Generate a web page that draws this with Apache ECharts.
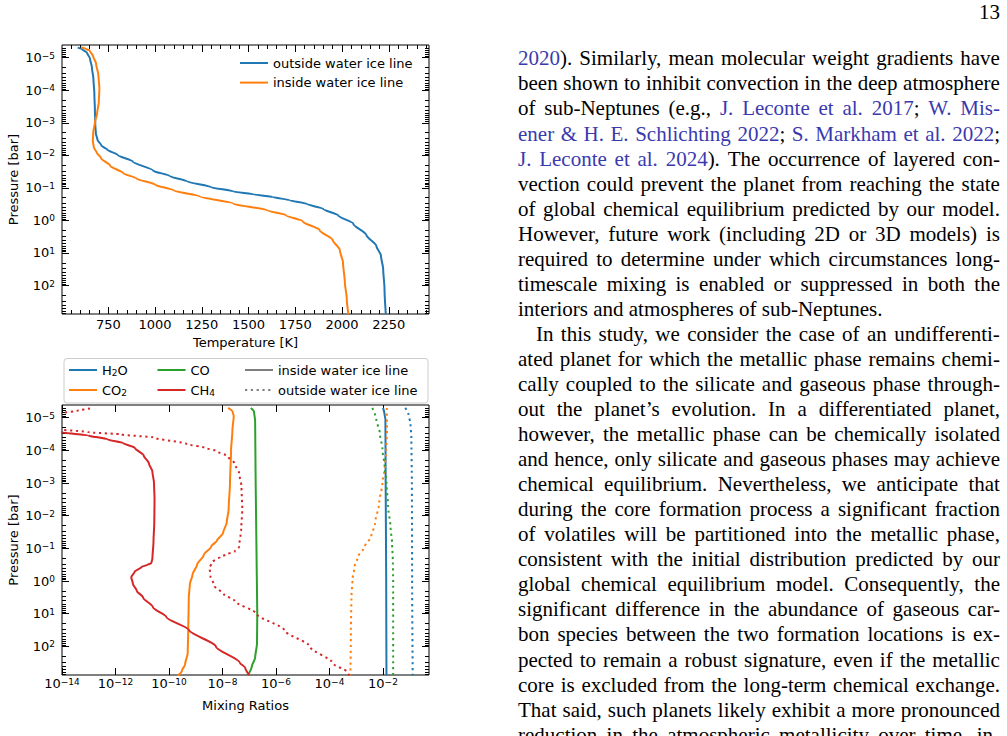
<!DOCTYPE html>
<html>
<head>
<meta charset="utf-8">
<title>Temperature and mixing ratio profiles</title>
<script src="https://cdn.jsdelivr.net/npm/echarts@6/dist/echarts.min.js"></script>
<style>
  html, body { margin: 0; padding: 0; background: #fff; }
  #chart { position: absolute; left: 0; top: 0; width: 1007px; height: 736px; }
  #page { position: absolute; left: 518px; top: 0; width: 482px; font-family: 'Liberation Serif', serif; font-size: 21px; line-height: 25.06px; color: #000; }
  #pageno { text-align: right; height: 46px; line-height: 24.95px; margin-top: 0.4px; }
  .ln { display: flex; justify-content: space-between; height: 25.06px; white-space: nowrap; }
  .ln.indent { padding-left: 18px; }
  .ln.last { display: block; }
  .cite { color: #3a3aae; }
</style>
</head>
<body>
<div id="chart"></div>
<div id="page"><div id="pageno">13</div><div id="body"></div></div>
<script>
// Temperature profiles, [temperature K, log10 pressure (bar)]
const tempOutside = [[586,-5.31],[612,-5.25],[636,-5.15],[652,-4.97],[662,-4.7],[670,-4.35],[675,-3.9],[678,-3.4],[680,-2.95],[683,-2.68],[692,-2.47],[712,-2.31],[745,-2.17],[800,-2.01],[880,-1.81],[990,-1.53],[1080,-1.36],[1170,-1.2],[1300,-1.02],[1420,-0.89],[1530,-0.8],[1630,-0.72],[1720,-0.62],[1810,-0.51],[1900,-0.35],[1980,-0.15],[2060,0.1],[2130,0.45],[2183,0.78],[2208,1.08],[2220,1.5],[2227,2.1],[2234,2.88]];
const tempInside = [[604,-5.31],[630,-5.27],[650,-5.22],[668,-5.05],[684,-4.82],[697,-4.45],[702,-4.05],[699,-3.65],[690,-3.3],[678,-3.0],[669,-2.7],[667,-2.45],[672,-2.25],[688,-2.08],[710,-1.92],[760,-1.68],[830,-1.45],[900,-1.29],[1000,-1.1],[1100,-0.92],[1238,-0.74],[1420,-0.51],[1600,-0.31],[1700,-0.16],[1790,0.03],[1880,0.3],[1950,0.6],[1988,0.91],[2005,1.3],[2015,1.9],[2025,2.4],[2034,2.88]];

// Mixing ratios, [log10 mixing ratio, log10 pressure (bar)]
const h2oInside = [[-2.0,-5.3],[-1.95,-5.15],[-1.91,-4.95],[-1.9,-3.0],[-1.88,0],[-1.87,2.88]];
const h2oOutside = [[-1.17,-5.3],[-1.05,-5.12],[-0.97,-4.8],[-0.94,-4.4],[-0.92,-3.0],[-0.91,0],[-0.89,2.88]];
const co2Inside = [[-7.79,-5.3],[-7.62,-5.18],[-7.58,-5.05],[-7.63,-4.6],[-7.68,-4.0],[-7.72,-3.0],[-7.77,-2.2],[-7.84,-1.8],[-7.98,-1.47],[-8.2,-1.25],[-8.42,-1.06],[-8.7,-0.8],[-8.95,-0.5],[-9.12,-0.2],[-9.22,0.1],[-9.26,0.5],[-9.28,1.5],[-9.3,2.2],[-9.4,2.55],[-9.52,2.75],[-9.68,2.9]];
const co2Outside = [[-1.86,-5.3],[-1.85,-4.6],[-1.88,-4.0],[-1.93,-3.5],[-2.02,-3.0],[-2.14,-2.4],[-2.3,-1.75],[-2.44,-1.37],[-2.68,-1.06],[-2.93,-0.75],[-3.06,-0.45],[-3.14,-0.05],[-3.18,0.5],[-3.2,1.5],[-3.22,2.88]];
const coInside = [[-6.94,-5.3],[-6.82,-5.18],[-6.78,-4.9],[-6.76,-3.0],[-6.73,-1.0],[-6.7,1.0],[-6.71,1.9],[-6.78,2.35],[-6.9,2.6],[-7.05,2.88]];
const coOutside = [[-2.4,-5.3],[-2.25,-4.95],[-2.12,-4.54],[-2.02,-4.03],[-1.94,-3.52],[-1.87,-3.0],[-1.81,-2.29],[-1.72,-1.67],[-1.66,-1.16],[-1.63,-0.6],[-1.62,0],[-1.62,2.88]];
const ch4Inside = [[-14.3,-4.62],[-14,-4.55],[-13.03,-4.46],[-12.3,-4.34],[-11.7,-4.22],[-11.28,-4.08],[-10.95,-3.85],[-10.75,-3.6],[-10.62,-3.35],[-10.56,-3.0],[-10.54,-2.5],[-10.55,-1.8],[-10.58,-1.2],[-10.62,-0.7],[-10.66,-0.55],[-10.8,-0.5],[-11.03,-0.43],[-11.28,-0.29],[-11.41,-0.12],[-11.35,0.08],[-11.2,0.3],[-10.97,0.5],[-10.6,0.8],[-10.1,1.1],[-9.25,1.5],[-8.25,2.0],[-7.35,2.5],[-7.15,2.65],[-7.0,2.88]];
const ch4Outside = [[-12.95,-5.28],[-13.4,-5.22],[-14,-5.14],[-14.5,-5.05],[-14.5,-4.7],[-14,-4.64],[-13.03,-4.56],[-11.78,-4.49],[-10.54,-4.39],[-9.35,-4.2],[-8.6,-4.07],[-8.23,-3.98],[-7.8,-3.82],[-7.55,-3.6],[-7.38,-3.31],[-7.29,-2.9],[-7.26,-2.2],[-7.3,-1.6],[-7.38,-1.05],[-7.55,-0.9],[-7.8,-0.83],[-8.1,-0.74],[-8.38,-0.58],[-8.48,-0.4],[-8.45,-0.15],[-8.3,0.15],[-7.95,0.4],[-7.55,0.6],[-6.73,1.0],[-5.7,1.5],[-4.74,2.0],[-3.87,2.52],[-3.37,2.77],[-3.25,2.88]];

// Ticks
const pressureTicks = [-5, -4, -3, -2, -1, 0, 1, 2];
const tempTicks = [750, 1000, 1250, 1500, 1750, 2000, 2250];
const ratioTicks = [-14, -12, -10, -8, -6, -4, -2];

const legendText = {
  tOut: 'outside water ice line', tIn: 'inside water ice line',
  H2O: 'H{sub|2}O', CO2: 'CO{sub|2}', CO: 'CO', CH4: 'CH{sub|4}',
  inside: 'inside water ice line', outside: 'outside water ice line'
};

const bodyLines = [
  '[2020]). Similarly, mean molecular weight gradients have',
  'been shown to inhibit convection in the deep atmosphere',
  'of sub-Neptunes (e.g., [J. Leconte et al. 2017]; [W. Mis-]',
  '[ener & H. E. Schlichting 2022]; [S. Markham et al. 2022];',
  '[J. Leconte et al. 2024]). The occurrence of layered con-',
  'vection could prevent the planet from reaching the state',
  'of global chemical equilibrium predicted by our model.',
  'However, future work (including 2D or 3D models) is',
  'required to determine under which circumstances long-',
  'timescale mixing is enabled or suppressed in both the',
  'interiors and atmospheres of sub-Neptunes.',
  'In this study, we consider the case of an undifferenti-',
  'ated planet for which the metallic phase remains chemi-',
  'cally coupled to the silicate and gaseous phase through-',
  'out the planet’s evolution. In a differentiated planet,',
  'however, the metallic phase can be chemically isolated',
  'and hence, only silicate and gaseous phases may achieve',
  'chemical equilibrium. Nevertheless, we anticipate that',
  'during the core formation process a significant fraction',
  'of volatiles will be partitioned into the metallic phase,',
  'consistent with the initial distribution predicted by our',
  'global chemical equilibrium model. Consequently, the',
  'significant difference in the abundance of gaseous car-',
  'bon species between the two formation locations is ex-',
  'pected to remain a robust signature, even if the metallic',
  'core is excluded from the long-term chemical exchange.',
  'That said, such planets likely exhibit a more pronounced',
  'reduction in the atmospheric metallicity over time, in-'
];
const lastLines = [10];
const indentLines = [11];

// ---- page text ----
function wordsHtml(line) {
  let link = false;
  return line.split(' ').map(w => {
    let out = '', buf = '';
    const flush = () => {
      if (!buf) return;
      const t = buf.replace(/&/g, '&amp;');
      out += link ? '<span class="cite">' + t + '</span>' : t;
      buf = '';
    };
    for (const ch of w) {
      if (ch === '[') { flush(); link = true; }
      else if (ch === ']') { flush(); link = false; }
      else buf += ch;
    }
    flush();
    return out;
  });
}
const bodyEl = document.getElementById('body');
bodyLines.forEach((s, i) => {
  const div = document.createElement('div');
  const words = wordsHtml(s);
  if (lastLines.includes(i)) {
    div.className = 'ln last';
    div.innerHTML = words.join(' ');
  } else {
    div.className = 'ln' + (indentLines.includes(i) ? ' indent' : '');
    div.innerHTML = words.map(w => '<span>' + w + '</span>').join('');
  }
  bodyEl.appendChild(div);
});

// ---- chart ----
const font = 'DejaVu Sans';
const pMin = -5.39, pMax = 2.875;
const tMin = 502, tMax = 2465;
const rMin = -14, rMax = -0.28;

const pressureMinor = [];
for (let n = -6; n <= 2; n++) {
  for (let k = 2; k <= 9; k++) {
    const v = n + Math.log10(k);
    if (v > pMin && v < pMax) pressureMinor.push(v);
  }
}
const tempMinor = [];
for (let t = 550; t < tMax; t += 50) if (t % 250) tempMinor.push(t);

const supRich = {
  b: { fontFamily: font, fontSize: 13, lineHeight: 13, padding: [3, 0, 0, 0], verticalAlign: 'bottom', color: '#000' },
  s: { fontFamily: font, fontSize: 9, lineHeight: 9, verticalAlign: 'top', color: '#000' }
};
const powLabel = v => '{b|10}{s|' + (v < 0 ? '\u2212' + (-v) : v) + '}';

function axis(gridIndex, position, min, max, ticks, len, extra) {
  return Object.assign({
    type: 'value', gridIndex, position, min, max,
    axisLine: { show: false, onZero: false },
    splitLine: { show: false },
    axisTick: { show: true, inside: true, length: len, customValues: ticks, lineStyle: { color: '#000', width: 1 } },
    axisLabel: { show: false }
  }, extra || {});
}
const nameStyle = { fontFamily: font, fontSize: 13, color: '#000' };
function pressureAxes(g) {
  return [
    axis(g, 'left', pMin, pMax, pressureTicks, 7, {
      inverse: true,
      name: 'Pressure [bar]', nameLocation: 'middle', nameGap: 42, nameTextStyle: nameStyle,
      axisLabel: { show: true, customValues: pressureTicks, margin: 7, formatter: powLabel, rich: supRich }
    }),
    axis(g, 'right', pMin, pMax, pressureTicks, 7, { inverse: true }),
    axis(g, 'left', pMin, pMax, pressureMinor, 4, { inverse: true }),
    axis(g, 'right', pMin, pMax, pressureMinor, 4, { inverse: true })
  ];
}

const xAxes = [
  axis(0, 'bottom', tMin, tMax, tempTicks, 7, {
    name: 'Temperature [K]', nameLocation: 'middle', nameGap: 22, nameTextStyle: nameStyle,
    axisLabel: { show: true, customValues: tempTicks, margin: 4, fontFamily: font, fontSize: 13, color: '#000', formatter: v => String(v) }
  }),
  axis(0, 'top', tMin, tMax, tempTicks, 7),
  axis(0, 'bottom', tMin, tMax, tempMinor, 4),
  axis(0, 'top', tMin, tMax, tempMinor, 4),
  axis(1, 'bottom', rMin, rMax, ratioTicks, 7, {
    name: 'Mixing Ratios', nameLocation: 'middle', nameGap: 24, nameTextStyle: nameStyle,
    axisLabel: { show: true, customValues: ratioTicks, margin: 2, formatter: powLabel, rich: supRich }
  }),
  axis(1, 'top', rMin, rMax, ratioTicks, 7)
];
const yAxes = pressureAxes(0).concat(pressureAxes(1));

const C = { blue: '#1f77b4', orange: '#ff7f0e', green: '#2ca02c', red: '#d62728', gray: '#7f7f7f' };
function line(name, data, color, xi, yi, dotted) {
  return {
    type: 'line', name, data, xAxisIndex: xi, yAxisIndex: yi,
    symbol: 'none', smooth: 0.25, smoothMonotone: 'y', silent: true,
    color, itemStyle: { color },
    lineStyle: { color, width: 2, type: dotted ? [2.2, 3.6] : 'solid', cap: 'butt' }
  };
}

const series = [
  line('tOut', tempOutside, C.blue, 0, 0, false),
  line('tIn', tempInside, C.orange, 0, 0, false),
  line('H2O', h2oInside, C.blue, 4, 4, false),
  line('CO2', co2Inside, C.orange, 4, 4, false),
  line('CO', coInside, C.green, 4, 4, false),
  line('CH4', ch4Inside, C.red, 4, 4, false),
  line('H2O', h2oOutside, C.blue, 4, 4, true),
  line('CO2', co2Outside, C.orange, 4, 4, true),
  line('CO', coOutside, C.green, 4, 4, true),
  line('CH4', ch4Outside, C.red, 4, 4, true),
  line('inside', [], C.gray, 4, 4, false),
  line('outside', [], C.gray, 4, 4, true)
];

const legendBase = {
  orient: 'vertical', itemWidth: 28, itemHeight: 14, itemGap: 5, padding: 0, selectedMode: false, z: 6,
  itemStyle: { opacity: 0 },
  formatter: n => legendText[n],
  textStyle: {
    fontFamily: font, fontSize: 13, color: '#000', lineHeight: 15,
    rich: { sub: { fontFamily: font, fontSize: 9, lineHeight: 9, padding: [6, 0, 0, 0], color: '#000' } }
  }
};
const legends = [
  Object.assign({}, legendBase, { data: ['tOut', 'tIn'], left: 239, top: 55.5, itemGap: 4.6 }),
  Object.assign({}, legendBase, { data: ['H2O', 'CO2'], left: 68, top: 362.5 }),
  Object.assign({}, legendBase, { data: ['CO', 'CH4'], left: 156.5, top: 362.5 }),
  Object.assign({}, legendBase, { data: ['inside', 'outside'], left: 244, top: 362.5 })
];

const chart = echarts.init(document.getElementById('chart'), null, { renderer: 'svg' });
chart.setOption({
  animation: false,
  backgroundColor: 'transparent',
  grid: [
    { left: 62, top: 45, width: 367, height: 269, show: true, borderColor: '#000', borderWidth: 1, backgroundColor: 'transparent' },
    { left: 62, top: 405, width: 367, height: 270, show: true, borderColor: '#000', borderWidth: 1, backgroundColor: 'transparent' }
  ],
  xAxis: xAxes,
  yAxis: yAxes,
  legend: legends,
  graphic: [{
    type: 'rect', z: 1,
    shape: { x: 64, y: 358.5, width: 364, height: 44.5, r: 3 },
    style: { fill: '#fff', stroke: '#cccccc', lineWidth: 1 }
  }],
  series
});
</script>
</body>
</html>
